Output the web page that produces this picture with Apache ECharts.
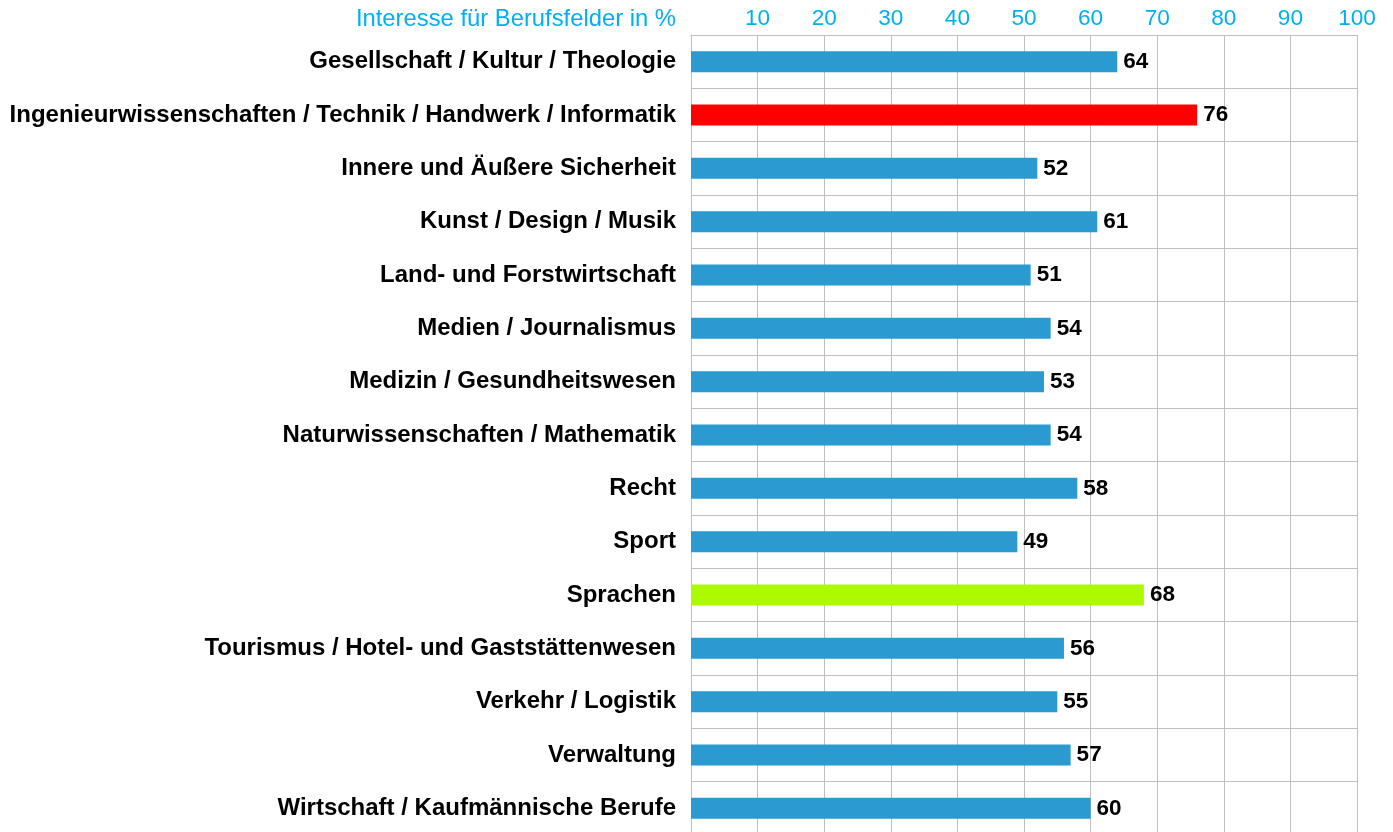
<!DOCTYPE html>
<html>
<head>
<meta charset="utf-8">
<script src="https://cdn.jsdelivr.net/npm/echarts@6/dist/echarts.min.js"></script>
<style>
html,body{margin:0;padding:0;background:#fff;}
#chart{width:1393px;height:832px;}
</style>
</head>
<body>
<div id="chart"></div>
<script>
const titleText = 'Interesse für Berufsfelder in %';
const categories = [
  'Gesellschaft / Kultur / Theologie',
  'Ingenieurwissenschaften / Technik / Handwerk / Informatik',
  'Innere und Äußere Sicherheit',
  'Kunst / Design / Musik',
  'Land- und Forstwirtschaft',
  'Medien / Journalismus',
  'Medizin / Gesundheitswesen',
  'Naturwissenschaften / Mathematik',
  'Recht',
  'Sport',
  'Sprachen',
  'Tourismus / Hotel- und Gaststättenwesen',
  'Verkehr / Logistik',
  'Verwaltung',
  'Wirtschaft / Kaufmännische Berufe'
];
const values = [64, 76, 52, 61, 51, 54, 53, 54, 58, 49, 68, 56, 55, 57, 60];
const barColors = ['#2A9AD0', '#FF0000', '#2A9AD0', '#2A9AD0', '#2A9AD0', '#2A9AD0', '#2A9AD0', '#2A9AD0', '#2A9AD0', '#2A9AD0', '#ADFA00', '#2A9AD0', '#2A9AD0', '#2A9AD0', '#2A9AD0'];

const chart = echarts.init(document.getElementById('chart'), null, {renderer: 'canvas'});
const gridColor = '#BFBFBF';
const fam = '"Liberation Sans", Arial, sans-serif';
chart.setOption({
  animation: false,
  backgroundColor: '#fff',
  grid: {left: 691, right: 36, top: 35, height: 800, containLabel: false, outerBoundsMode: 'none'},
  graphic: [{
    type: 'text',
    right: 1393 - 676,
    top: 7,
    style: {text: titleText, fill: '#00B0F0', font: '23.8px ' + fam}
  }],
  xAxis: {
    type: 'value',
    position: 'top',
    min: 0, max: 100, interval: 10,
    axisLine: {show: true, lineStyle: {color: gridColor, width: 1}},
    axisTick: {show: false},
    splitLine: {show: true, lineStyle: {color: gridColor, width: 1}},
    axisLabel: {
      color: '#00B0F0',
      fontSize: 22.6,
      fontFamily: fam,
      margin: 5,
      formatter: v => v === 0 ? '' : String(v)
    }
  },
  yAxis: {
    type: 'category',
    inverse: true,
    data: categories,
    axisLine: {show: true, lineStyle: {color: gridColor, width: 1}},
    axisTick: {show: false},
    splitLine: {show: true, lineStyle: {color: gridColor, width: 1}},
    axisLabel: {
      color: '#000',
      fontSize: 24,
      fontWeight: 'bold',
      fontFamily: fam,
      margin: 15
    }
  },
  series: [{
    type: 'bar',
    data: values.map((v, i) => ({value: v, itemStyle: {color: barColors[i]}})),
    barWidth: 21,
    label: {
      show: true,
      position: 'right',
      distance: 6,
      color: '#000',
      fontSize: 22.5,
      fontWeight: 'bold',
      fontFamily: fam
    }
  }]
});
</script>
</body>
</html>
